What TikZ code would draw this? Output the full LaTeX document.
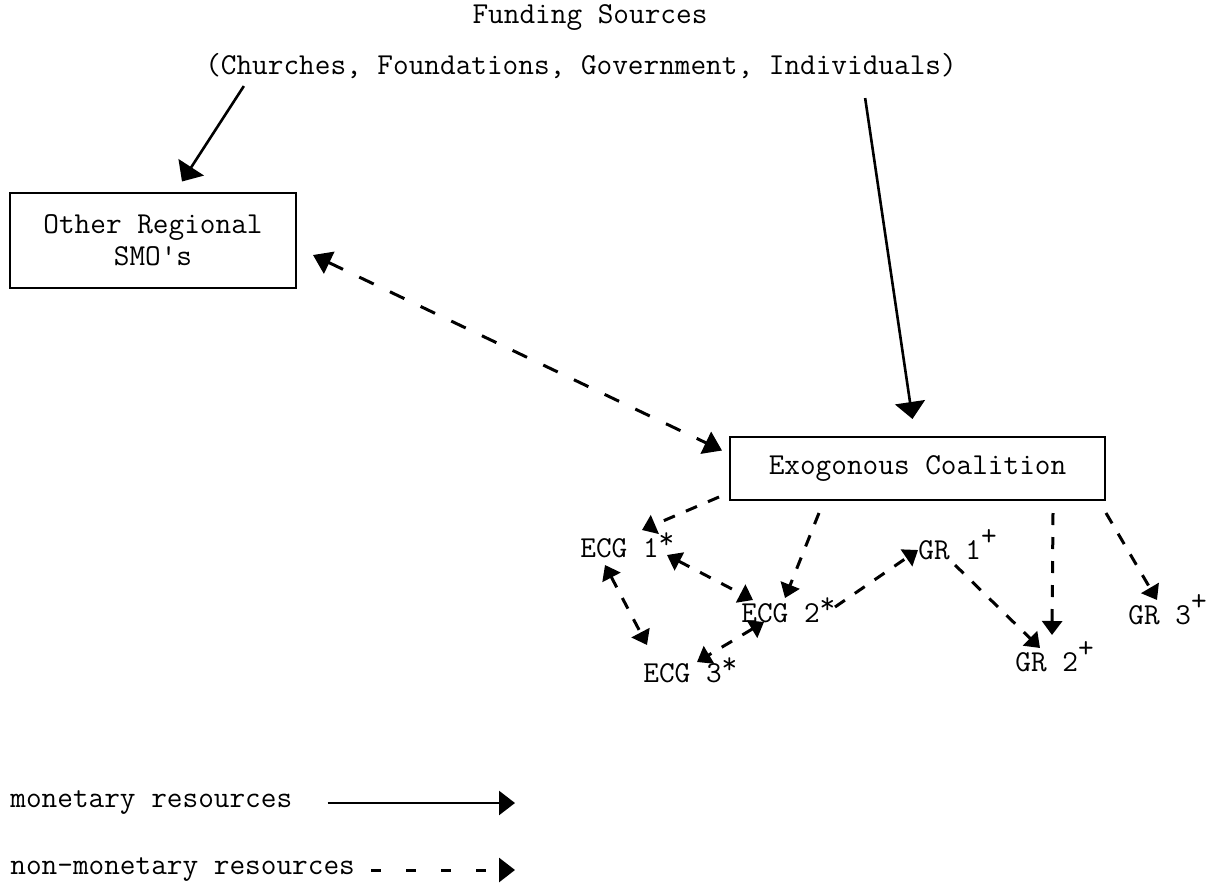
\documentclass[tikz,border=0pt]{standalone}
\usetikzlibrary{arrows.meta}
\newcommand{\upstar}{\smash{\raisebox{0.3em}{*}}}
\newcommand{\upplus}{\smash{\raisebox{0.45em}{+}}}
\begin{document}
\begin{tikzpicture}
[%%%%%%%%%%%%%%%%%%%%%%%%%%%%%%
x=0.5pt,y=-0.5pt,
font=\fontsize{15.2}{16}\selectfont\ttfamily,
box/.style={rectangle,draw=black,line width=1pt,align=center,inner sep=0pt},
lbl/.style={inner sep=0pt,anchor=west},
money/.style={line width=1.3pt,-{Triangle[length=8.5pt,width=15pt]}},
nomoney/.style={line width=1.5pt,dash pattern=on 6pt off 6pt,-{Triangle[length=7pt,width=10pt]}},
both/.style={nomoney,{Triangle[length=7pt,width=10pt]}-{Triangle[length=7pt,width=10pt]}},
]%%%%%%%%%%%%%%%%%%%%%%%%%%%%%%
\useasboundingbox (0,0) rectangle (1216,884);
\node[inner sep=0pt] (fund) at (590,18) {Funding Sources};
\node[inner sep=0pt] (src) at (581,66) {(Churches, Foundations, Government, Individuals)};
\node[box,minimum width=143pt,minimum height=47.5pt] (smo) at (153,240) {Other Regional\\SMO\textquotesingle s};
\node[box,minimum width=187.5pt,minimum height=31.5pt] (exo) at (917.5,468.5) {Exogonous Coalition};
\node[lbl] (ecg1) at (580,548) {ECG 1\upstar};
\node[lbl] (ecg2) at (741,613) {ECG 2\upstar};
\node[lbl] (ecg3) at (643,673) {ECG 3\upstar};
\node[lbl] (gr1) at (918,550) {GR 1\upplus};
\node[lbl] (gr2) at (1015,662) {GR 2\upplus};
\node[lbl] (gr3) at (1128,615) {GR 3\upplus};
% money
\draw[money] ([xshift=19.5pt,yshift=-3.5pt]src.south west) -- ([xshift=14.5pt,yshift=5pt]smo.north);
\draw[money] ([xshift=-46pt,yshift=-9.5pt]src.south east) -- ([xshift=-2.5pt,yshift=8.5pt]exo.north);
% other resources
\draw[nomoney,dash pattern=on 8pt off 9pt,{Triangle[length=9pt,width=12pt]}-{Triangle[length=9pt,width=12pt]}] ([xshift=8pt,yshift=-7.5pt]smo.east) -- ([xshift=-3.5pt,yshift=9pt]exo.west);
\draw[nomoney] ([xshift=-5pt,yshift=2pt]exo.south west) -- ([xshift=31pt,yshift=9pt]ecg1.west);
\draw[nomoney] ([xshift=45pt,yshift=-6pt]exo.south west) -- ([xshift=22pt,yshift=7.5pt]ecg2.west);
\draw[nomoney] ([xshift=-26.5pt,yshift=-6pt]exo.south east) -- ([xshift=18.5pt,yshift=13.5pt]gr2.west);
\draw[nomoney] ([yshift=-6pt]exo.south east) -- ([xshift=14.5pt,yshift=7.5pt]gr3.west);
\draw[both] ([xshift=43.5pt,yshift=-3.5pt]ecg1.west) -- ([xshift=6pt,yshift=6.5pt]ecg2.west);
\draw[both] ([xshift=12.5pt,yshift=-8.5pt]ecg1.west) -- ([xshift=2pt,yshift=14pt]ecg3.west);
\draw[both] ([xshift=11.5pt,yshift=-4.5pt]ecg2.west) -- ([xshift=27pt,yshift=5.5pt]ecg3.west);
\draw[nomoney] ([xshift=47pt,yshift=3pt]ecg2.west) -- (gr1.west);
\draw[nomoney] ([xshift=18.5pt,yshift=-7.5pt]gr1.west) -- ([xshift=12.5pt,yshift=7pt]gr2.west);
% legend
\node[lbl] (legA) at (10,803) {monetary resources};
\node[lbl] (legB) at (10,870) {non-monetary resources};
\coordinate (legAend) at (515,803);
\coordinate (legBend) at (515,870);
\draw[money,-{Triangle[length=8pt,width=12pt]}] ([xshift=17.5pt]legA.east) -- (legAend);
\draw[nomoney,dash pattern=on 5pt off 12.5pt,-{Triangle[length=8pt,width=12pt]}] ([xshift=8pt]legB.east) -- (legBend);
\end{tikzpicture}
\end{document}
